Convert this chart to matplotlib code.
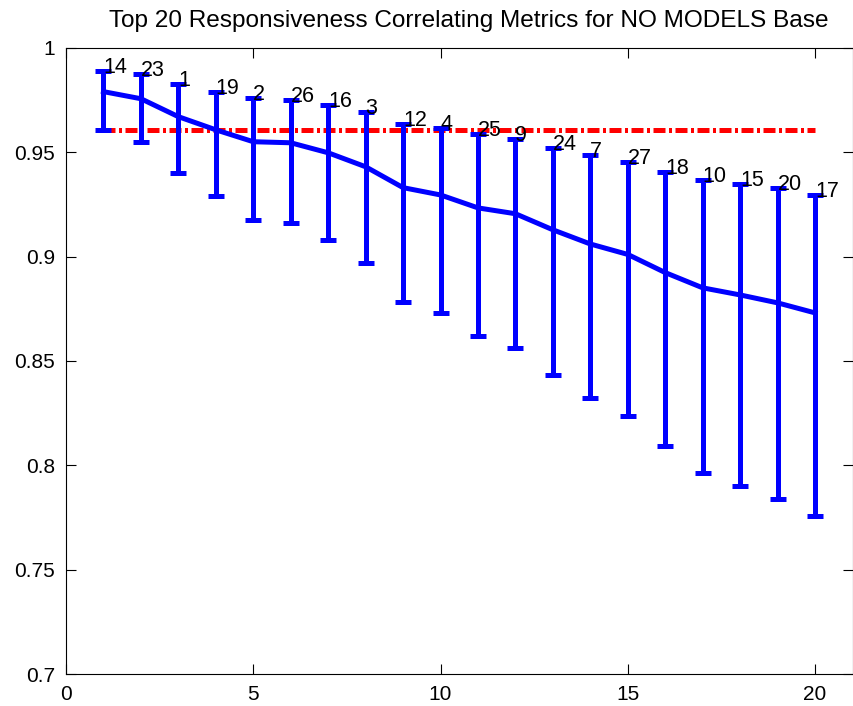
import numpy as np
import matplotlib.pyplot as plt

plt.rcParams['font.family'] = ['Liberation Sans', 'DejaVu Sans']

rank = np.arange(1, 21)
metric_ids = ['14', '23', '1', '19', '2', '26', '16', '3', '12', '4',
              '25', '9', '24', '7', '27', '18', '10', '15', '20', '17']
mean_corr = [0.979, 0.9756, 0.967, 0.9607, 0.955, 0.9545, 0.9497, 0.943, 0.933, 0.9295,
             0.9233, 0.9205, 0.9128, 0.906, 0.901, 0.8923, 0.885, 0.8816, 0.8778, 0.873]
upper_corr = [0.9889, 0.9875, 0.9827, 0.979, 0.976, 0.975, 0.9727, 0.9693, 0.9636, 0.9617,
              0.9588, 0.9564, 0.952, 0.9487, 0.9455, 0.9407, 0.9367, 0.9348, 0.933, 0.9296]
lower_corr = [0.9607, 0.955, 0.940, 0.9288, 0.9176, 0.916, 0.908, 0.897, 0.878, 0.873,
              0.862, 0.856, 0.8433, 0.8323, 0.8237, 0.809, 0.7965, 0.790, 0.7838, 0.7757]
threshold = 0.9607

mean_corr = np.array(mean_corr)
yerr = [mean_corr - np.array(lower_corr), np.array(upper_corr) - mean_corr]

fig = plt.figure(figsize=(8.54, 7.06), dpi=100)
ax = fig.add_axes([0.0773, 0.0453, 0.921, 0.887])

ax.errorbar(rank, mean_corr, yerr=yerr, color='#0000ff', ecolor='#0000ff',
            linewidth=3.6, elinewidth=3.6, capsize=5.5, capthick=3.6, zorder=3)
ax.plot([rank[0], rank[-1]], [threshold, threshold], color='#ff0000', linewidth=3.6,
        dashes=(2.4, 0.7, 0.6, 0.7), zorder=2)

for x, y, lab in zip(rank, upper_corr, metric_ids):
    ax.text(x, y - 0.001, lab, fontsize=15.5, ha='left', va='baseline', zorder=4)

ax.set_xlim(0, 21)
ax.set_ylim(0.7, 1)
ax.set_xticks([0, 5, 10, 15, 20])
ax.set_yticks([0.7, 0.75, 0.8, 0.85, 0.9, 0.95, 1])
ax.set_yticklabels(['0.7', '0.75', '0.8', '0.85', '0.9', '0.95', '1'])
ax.tick_params(direction='in', length=7, width=0.8, labelsize=15,
               top=True, right=True, pad=8)
for s in ax.spines.values():
    s.set_linewidth(0.8)

ax.set_title('Top 20 Responsiveness Correlating Metrics for NO MODELS Base',
             fontsize=17.6, pad=15, x=0.512)

fig.savefig('out.png', dpi=100)
